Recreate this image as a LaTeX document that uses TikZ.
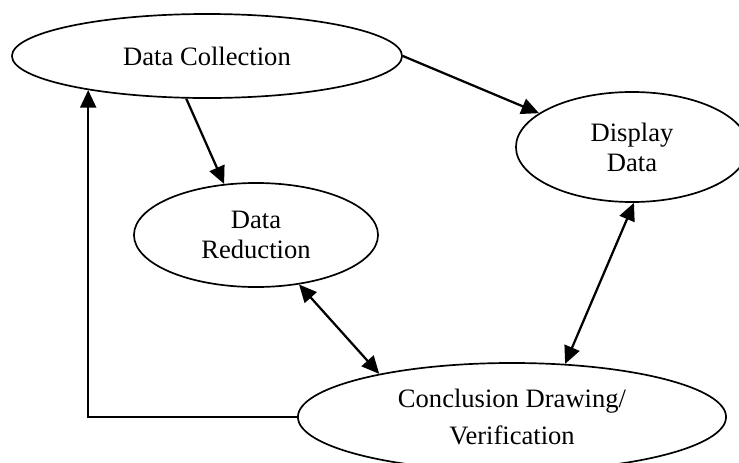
\documentclass[tikz,border=0pt]{standalone}
\usepackage{fontspec}
\setmainfont{Liberation Serif}
\usetikzlibrary{arrows.meta,shapes.geometric}
\tikzset{
  stage/.style={ellipse,draw,line width=1.2pt,inner sep=0pt,align=center,
    font=\fontsize{18.9}{21.3}\selectfont}
}
\tikzstyle{arrow} = [line width=1.6pt,-{Triangle[length=0.44cm,width=0.4cm]}]
\tikzstyle{twoway} = [line width=1.6pt,
  {Triangle[length=0.44cm,width=0.4cm]}-{Triangle[length=0.44cm,width=0.4cm]}]

\begin{document}
\begin{tikzpicture}[x=0.025cm,y=-0.025cm]
  \useasboundingbox (0,0) rectangle (739,462);
  % the four stages
  \node[stage,minimum width=9.75cm,minimum height=2.1cm] (dc) at (207,56)
    {Data Collection};
  \node[stage,minimum width=5.8cm,minimum height=2.75cm] (dd) at (632,147)
    {Display\\Data};
  \node[stage,minimum width=6.1cm,minimum height=2.6cm] (dr) at (256,235)
    {Data\\Reduction};
  \node[stage,minimum width=10.7cm,minimum height=2.7cm] (cv) at (512,417)
    {Conclusion Drawing/\\[5pt]Verification};
  % flows
  \draw[arrow] (dc.244) -- (dr.122);
  \draw[arrow] (dc.east) -- (dd.160);
  \draw[twoway] (dd.272) -- (cv.45);
  \draw[twoway] (dr.311) -- (cv.162);
  \draw[arrow] (cv.west) -| (dc.196);
\end{tikzpicture}
\end{document}
